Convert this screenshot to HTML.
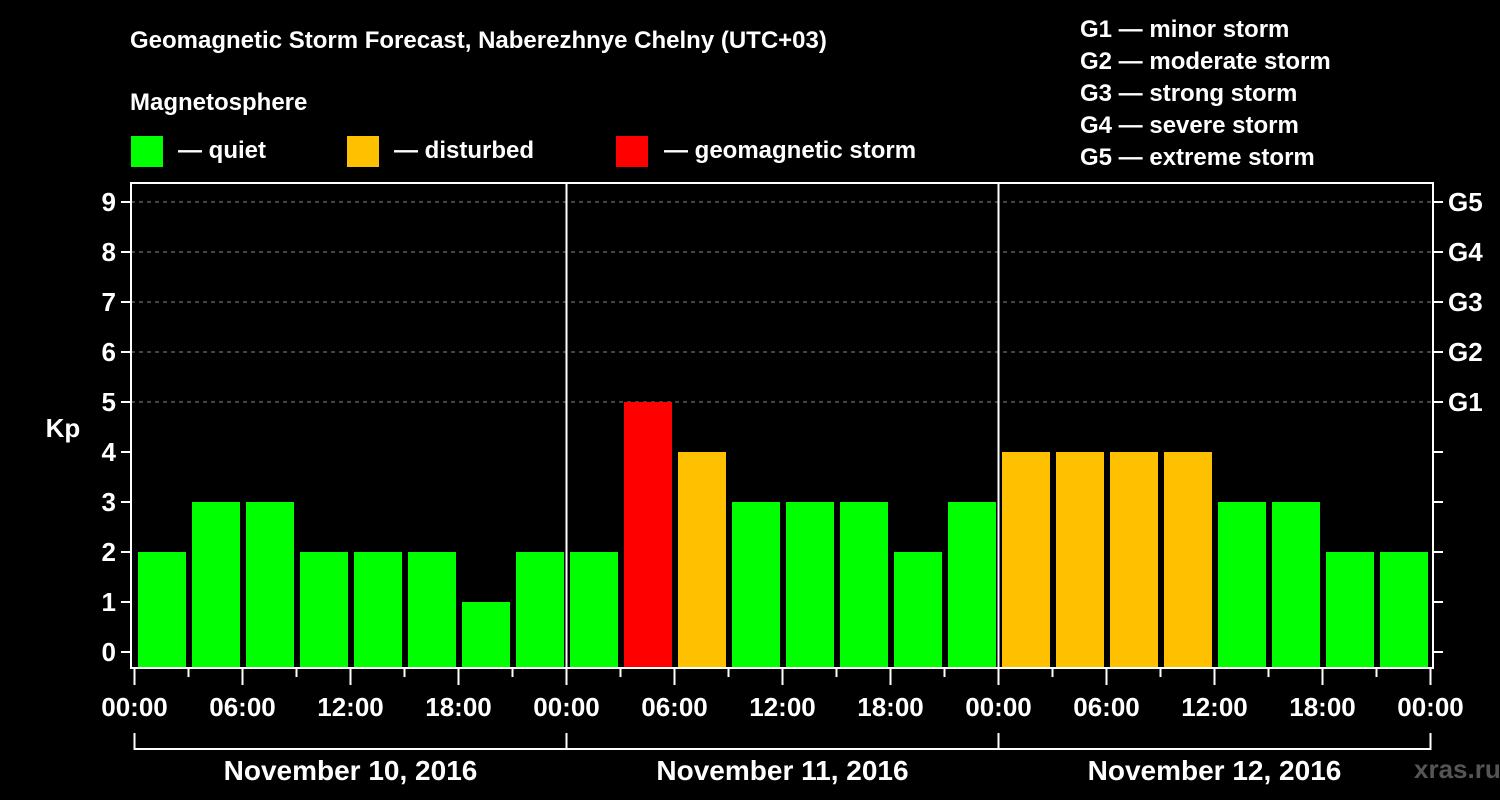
<!DOCTYPE html>
<html><head><meta charset="utf-8"><style>
html,body{margin:0;padding:0;background:#000;}
svg{display:block;font-family:"Liberation Sans",sans-serif;font-weight:bold;}
</style></head><body>
<svg id="c" width="1500" height="800" viewBox="0 0 1500 800">
<rect width="1500" height="800" fill="#000"/>
<text x="130" y="48" fill="#fff" font-size="24">Geomagnetic Storm Forecast, Naberezhnye Chelny (UTC+03)</text>
<text x="130" y="110" fill="#fff" font-size="24">Magnetosphere</text>
<g><rect x="131" y="136" width="32" height="31" fill="#00ff00"/><text x="178" y="158" fill="#fff" font-size="24">— quiet</text></g>
<g><rect x="347" y="136" width="32" height="31" fill="#ffc000"/><text x="394" y="158" fill="#fff" font-size="24">— disturbed</text></g>
<g><rect x="616" y="136" width="32" height="31" fill="#ff0000"/><text x="664" y="158" fill="#fff" font-size="24">— geomagnetic storm</text></g>
<g fill="#fff" font-size="24">
<text x="1080" y="37">G1 — minor storm</text>
<text x="1080" y="69">G2 — moderate storm</text>
<text x="1080" y="101">G3 — strong storm</text>
<text x="1080" y="133">G4 — severe storm</text>
<text x="1080" y="165">G5 — extreme storm</text>
</g>
<text x="63" y="437" fill="#fff" font-size="26" text-anchor="middle">Kp</text>
<text x="1414" y="778" fill="#555" font-size="26">xras.ru</text>
<g id="plot"></g>
</svg>
<script>
const days = ["November 10, 2016","November 11, 2016","November 12, 2016"];
const kpValues = [2,3,3,2,2,2,1,2, 2,5,4,3,3,3,2,3, 4,4,4,4,3,3,2,2];
const kpTicks = [0,1,2,3,4,5,6,7,8,9];
const gLabels = ["G1","G2","G3","G4","G5"];
const hourLabels = ["00:00","06:00","12:00","18:00"];

const NS="http://www.w3.org/2000/svg";
const g=document.getElementById('plot');
const X0=134.5, DAYW=432, L=131, R=1433, T=183, B=668;
const x=h=>X0+h*DAYW/24;
const y=v=>652-v*50;
function mk(tag,a){const e=document.createElementNS(NS,tag);for(const k in a)e.setAttribute(k,a[k]);g.appendChild(e);return e;}
function col(v){return v>=5?"#ff0000":v>=4?"#ffc000":"#00ff00";}

for(let v=5;v<=9;v++){
  const l=mk('line',{x1:L,x2:R,y1:y(v),y2:y(v),stroke:"#888","stroke-dasharray":"4,4","stroke-width":1});
  
  
}
kpValues.forEach((v,i)=>{
  const r=mk('rect',{x:x(i*3)+3.5,y:y(v),width:48,height:B-y(v),fill:col(v)});
  
  
});
// axes frame
const fr=mk('rect',{x:L,y:T,width:R-L,height:B-T,fill:"none",stroke:"#fff","stroke-width":2});


for(let d=1;d<days.length;d++){
  const l=mk('line',{x1:x(d*24),x2:x(d*24),y1:T,y2:B,stroke:"#fff","stroke-width":2});
  
  
}
kpTicks.forEach(v=>{
  mk('line',{x1:L-10,x2:L,y1:y(v),y2:y(v),stroke:"#fff","stroke-width":2});
  mk('line',{x1:R,x2:R+10,y1:y(v),y2:y(v),stroke:"#fff","stroke-width":2});
  const t=mk('text',{x:116,y:y(v)+9,fill:"#fff","font-size":26,"text-anchor":"end"});
  t.textContent=v;
  
  
});
gLabels.forEach((s,i)=>{
  const t=mk('text',{x:1448,y:y(5+i)+9,fill:"#fff","font-size":26});
  t.textContent=s;
  
  
});
for(let h=0;h<=days.length*24;h+=3){
  const major=h%6===0;
  mk('line',{x1:x(h),x2:x(h),y1:B,y2:major?685:677,stroke:"#fff","stroke-width":2});
  if(major){
    const t=mk('text',{x:x(h),y:716,fill:"#fff","font-size":26,"text-anchor":"middle"});
    t.textContent=hourLabels[(h/6)%4];
    
    
  }
}
mk('line',{x1:x(0),x2:x(days.length*24),y1:749,y2:749,stroke:"#fff","stroke-width":2});
for(let d=0;d<=days.length;d++) mk('line',{x1:x(d*24),x2:x(d*24),y1:733,y2:750,stroke:"#fff","stroke-width":2});
days.forEach((s,d)=>{
  const t=mk('text',{x:x(d*24+12),y:780,fill:"#fff","font-size":28,"text-anchor":"middle"});
  t.textContent=s;
  
  
});
</script>
</body></html>
